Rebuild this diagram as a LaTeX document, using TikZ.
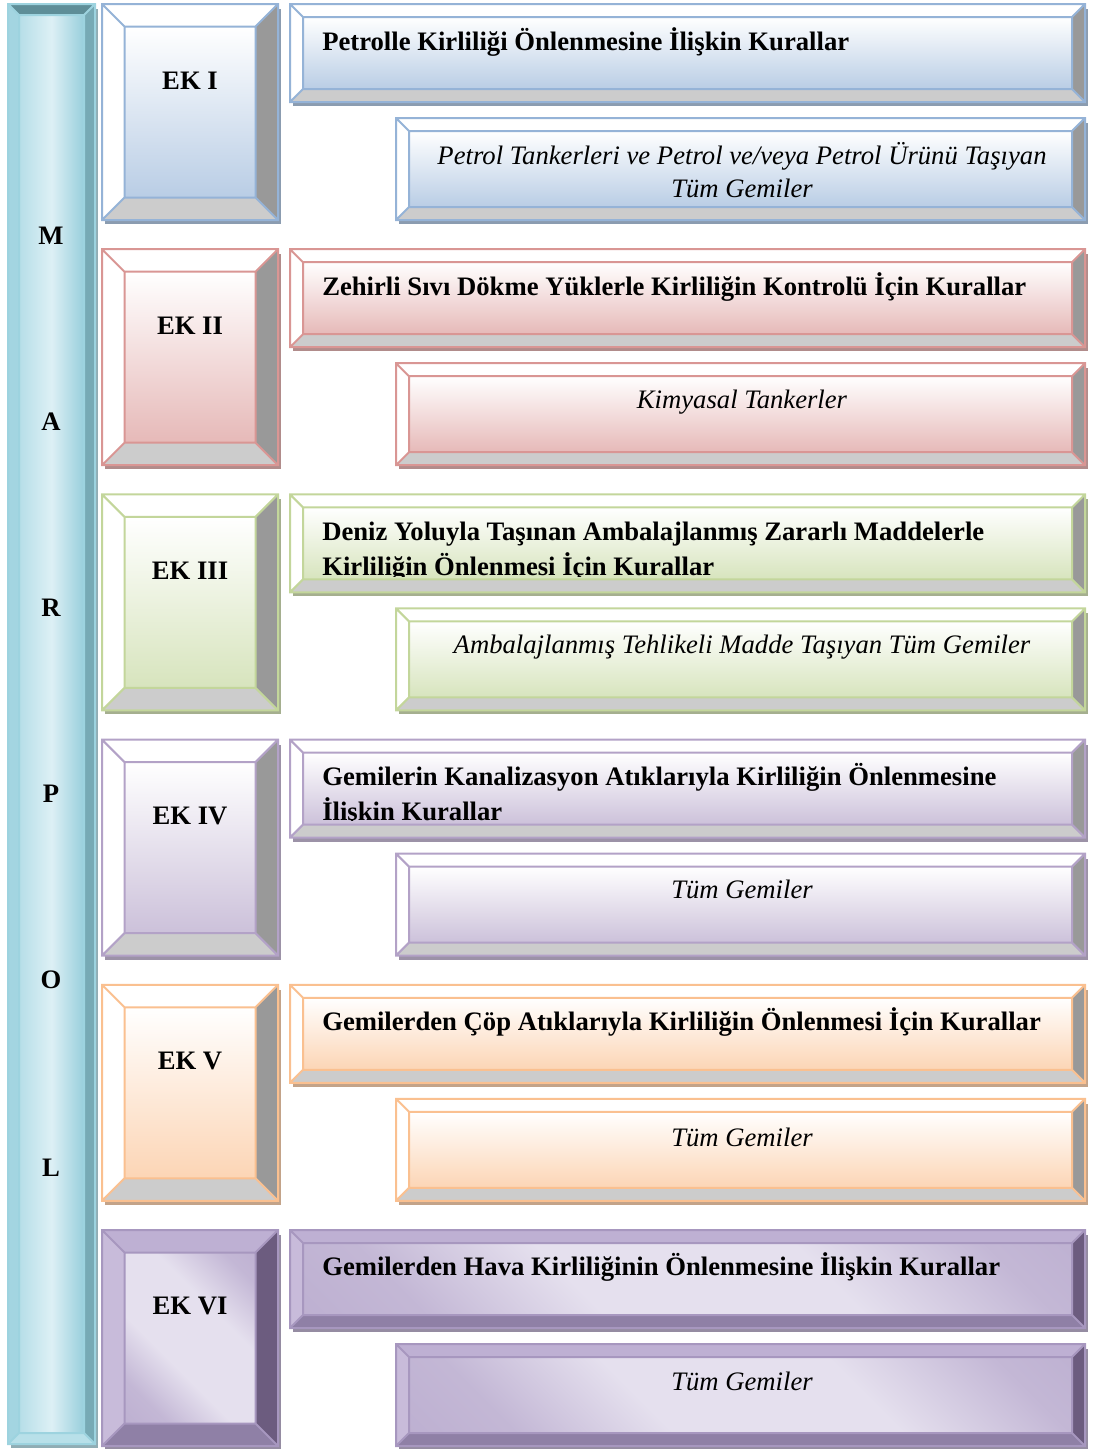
\documentclass[tikz,border=0pt]{standalone}
\usepackage{fontspec}
\setmainfont{Liberation Serif}
\usetikzlibrary{calc}

\definecolor{pEdge}{HTML}{B5A6CB}
\definecolor{pMid}{HTML}{E5E0EE}
% diagonal sheen for the last annex: darker corners, wide light band
\pgfdeclarehorizontalshading{purplesheen}{100bp}{%
  color(0bp)=(pEdge); color(25bp)=(pEdge!70!pMid); color(40bp)=(pMid);
  color(62bp)=(pMid); color(78bp)=(pEdge!70!pMid); color(100bp)=(pEdge)}

% bevelled panel: x1 y1 x2 y2 bevel-width (pixel units, y grows downward)
\newcommand\bevbox[5]{%
  \fill[shadowfill] ({#1+3},{#2+5}) rectangle ({#3+3},{#4+4});
  \fill[bt] (#1,#2) -- (#3,#2) -- ({#3-#5},{#2+#5}) -- ({#1+#5},{#2+#5}) -- cycle;
  \fill[bl] (#1,#2) -- ({#1+#5},{#2+#5}) -- ({#1+#5},{#4-#5}) -- (#1,#4) -- cycle;
  \fill[bb] (#1,#4) -- ({#1+#5},{#4-#5}) -- ({#3-#5},{#4-#5}) -- (#3,#4) -- cycle;
  \fill[br] (#3,#2) -- (#3,#4) -- ({#3-#5},{#4-#5}) -- ({#3-#5},{#2+#5}) -- cycle;
  \shade[face] ({#1+#5},{#2+#5}) rectangle ({#3-#5},{#4-#5});
  \draw[edge] (#1,#2) rectangle (#3,#4)
    ({#1+#5},{#2+#5}) rectangle ({#3-#5},{#4-#5})
    (#1,#2) -- ({#1+#5},{#2+#5}) (#3,#2) -- ({#3-#5},{#2+#5})
    (#1,#4) -- ({#1+#5},{#4-#5}) (#3,#4) -- ({#3-#5},{#4-#5});
}

% one annex row: top y, EK label box, rule box, ship-type box
\newcommand\annexboxes[1]{%
  \bevbox{102}{#1}{278}{#1+216}{22.5}
  \bevbox{290}{#1}{1085}{#1+98}{13}
  \bevbox{396}{#1+114}{1085}{#1+216}{13}
}

\colorlet{bt}{white}\colorlet{bl}{white}
\colorlet{bb}{black!20}\colorlet{br}{black!40}
\colorlet{bd}{black}

\tikzset{
  edge/.style={draw=bd, line width=1.5pt, line join=miter},
  shadowfill/.style={fill=bd!55!gray},
  face/.style={top color=white, bottom color=fc},
  eklabel/.style={font=\fontsize{20}{24}\selectfont\bfseries, anchor=base, inner sep=0pt},
  rulelabel/.style={font=\fontsize{20}{24}\selectfont\bfseries, anchor=base west, inner sep=0pt},
  shiplabel/.style={font=\fontsize{20}{24}\selectfont\itshape, anchor=base, inner sep=0pt},
  barletter/.style={font=\fontsize{20}{24}\selectfont\bfseries, anchor=base, inner sep=0pt},
}

\begin{document}
\begin{tikzpicture}[x=0.75pt, y=-0.75pt]
\useasboundingbox (0,0) rectangle (1094,1449);

% ---- MARPOL side bar ----
\begin{scope}
  \definecolor{bd}{HTML}{9DD3DF}
  \definecolor{bt}{HTML}{5E8E98}
  \definecolor{bl}{HTML}{A3D5E1}
  \definecolor{bb}{HTML}{B8E0E9}
  \definecolor{br}{HTML}{77AAB5}
  \definecolor{barL}{HTML}{B6DEE8}
  \definecolor{barM}{HTML}{DDF0F5}
  \definecolor{barR}{HTML}{98CFDC}
  \tikzset{face/.style={left color=barL, right color=barR, middle color=barM}}
  \bevbox{8}{4}{95}{1444}{11}
\end{scope}
\node[barletter] (m1) at (51,244) {M};
\node[barletter] (m2) at (51,430) {A};
\node[barletter] (m3) at (51,616) {R};
\node[barletter] (m4) at (51,802) {P};
\node[barletter] (m5) at (51,988) {O};
\node[barletter] (m6) at (51,1176) {L};

% ---- EK I ----
\begin{scope}
  \definecolor{bd}{HTML}{95B3D7}\definecolor{fc}{HTML}{B9CDE5}
  \annexboxes{4}
\end{scope}
\node[eklabel] (ek1) at (190,89) {EK I};
\node[rulelabel] (r1) at (322,50) {Petrolle Kirliliği Önlenmesine İlişkin Kurallar};
\node[shiplabel] (s1a) at (742,164) {Petrol Tankerleri ve Petrol ve/veya Petrol Ürünü Taşıyan};
\node[shiplabel] (s1b) at (742,197) {Tüm Gemiler};

% ---- EK II ----
\begin{scope}
  \definecolor{bd}{HTML}{D99694}\definecolor{fc}{HTML}{E6B9B8}
  \annexboxes{249.2}
\end{scope}
\node[eklabel] (ek2) at (190,334) {EK II};
\node[rulelabel] (r2) at (322,295) {Zehirli Sıvı Dökme Yüklerle Kirliliğin Kontrolü İçin Kurallar};
\node[shiplabel] (s2) at (742,408) {Kimyasal Tankerler};

% ---- EK III ----
\begin{scope}
  \definecolor{bd}{HTML}{C3D69B}\definecolor{fc}{HTML}{D7E4BD}
  \annexboxes{494.4}
\end{scope}
\node[eklabel] (ek3) at (190,579) {EK III};
\begin{scope}
  \clip (303,506) rectangle (1072,576);
  \node[rulelabel] (r3a) at (322,540) {Deniz Yoluyla Taşınan Ambalajlanmış Zararlı Maddelerle};
  \node[rulelabel] (r3b) at (322,575) {Kirliliğin Önlenmesi İçin Kurallar};
\end{scope}
\node[shiplabel] (s3) at (742,653) {Ambalajlanmış Tehlikeli Madde Taşıyan Tüm Gemiler};

% ---- EK IV ----
\begin{scope}
  \definecolor{bd}{HTML}{B3A2C7}\definecolor{fc}{HTML}{CCC1DA}
  \annexboxes{739.6}
\end{scope}
\node[eklabel] (ek4) at (190,824) {EK IV};
\begin{scope}
  \clip (303,751) rectangle (1072,820.5);
  \node[rulelabel] (r4a) at (322,785) {Gemilerin Kanalizasyon Atıklarıyla Kirliliğin Önlenmesine};
  \node[rulelabel] (r4b) at (322,820) {İlişkin Kurallar};
\end{scope}
\node[shiplabel] (s4) at (742,898) {Tüm Gemiler};

% ---- EK V ----
\begin{scope}
  \definecolor{bd}{HTML}{FAC090}\definecolor{fc}{HTML}{FCD5B5}
  \annexboxes{984.8}
\end{scope}
\node[eklabel] (ek5) at (190,1069) {EK V};
\node[rulelabel] (r5) at (322,1030) {Gemilerden Çöp Atıklarıyla Kirliliğin Önlenmesi İçin Kurallar};
\node[shiplabel] (s5) at (742,1146) {Tüm Gemiler};

% ---- EK VI ----
\begin{scope}
  \definecolor{bd}{HTML}{A797BF}
  \definecolor{bt}{HTML}{BEB0D3}
  \definecolor{bl}{HTML}{C8BBDA}
  \definecolor{bb}{HTML}{8F80A6}
  \definecolor{br}{HTML}{6C5C7F}
  \tikzset{face/.style={shading=purplesheen, shading angle=45}}
  \annexboxes{1230}
\end{scope}
\node[eklabel] (ek6) at (190,1314) {EK VI};
\node[rulelabel] (r6) at (322,1275) {Gemilerden Hava Kirliliğinin Önlenmesine İlişkin Kurallar};
\node[shiplabel] (s6) at (742,1390) {Tüm Gemiler};

\end{tikzpicture}
\end{document}
